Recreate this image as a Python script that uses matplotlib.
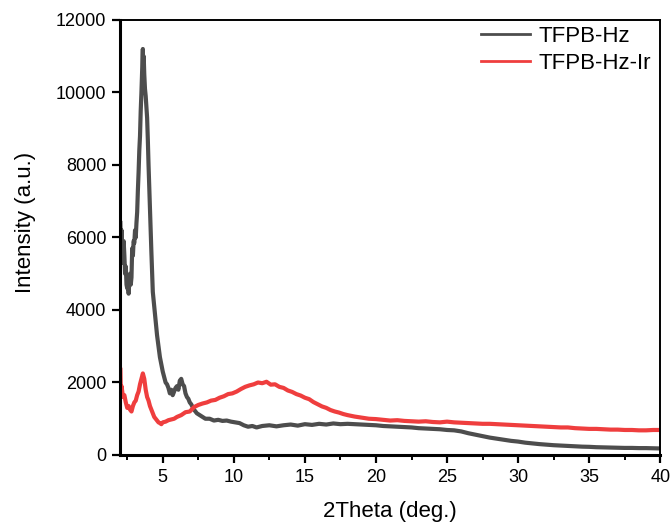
import matplotlib
matplotlib.use("Agg")
import matplotlib.pyplot as plt
from matplotlib.ticker import MultipleLocator

plt.rcParams['font.family'] = ['Liberation Sans', 'DejaVu Sans']

# TFPB-Hz (dark gray)
hz_x = [2.02, 2.06, 2.10, 2.15, 2.20, 2.25, 2.30, 2.35, 2.40, 2.45, 2.50, 2.55, 2.60, 2.65,
        2.70, 2.75, 2.80, 2.85, 2.90, 2.95, 3.00, 3.05, 3.10, 3.15, 3.20, 3.25, 3.30, 3.35,
        3.40, 3.45, 3.50, 3.55, 3.60, 3.63, 3.66, 3.70, 3.75, 3.80, 3.85, 3.90, 3.95, 4.00,
        4.10, 4.20, 4.30, 4.40, 4.50, 4.60, 4.70, 4.80, 4.90, 5.00, 5.10, 5.20, 5.30, 5.40,
        5.50, 5.60, 5.70, 5.80, 5.90, 6.00, 6.10, 6.20, 6.30, 6.40, 6.50, 6.60, 6.70, 6.80,
        6.90, 7.00, 7.20, 7.40, 7.60, 7.80, 8.00, 8.30, 8.60, 8.90, 9.20, 9.50, 9.80, 10.1,
        10.4, 10.7, 11.0, 11.3, 11.6, 12.0, 12.5, 13.0, 13.5, 14.0, 14.5, 15.0, 15.5, 16.0,
        16.5, 17.0, 17.5, 18.0, 18.5, 19.0, 19.5, 20.0, 20.5, 21.0, 21.5, 22.0, 22.5, 23.0,
        23.5, 24.0, 24.5, 25.0, 25.5, 26.0, 26.5, 27.0, 27.5, 28.0, 28.5, 29.0, 29.5, 30.0,
        30.5, 31.0, 31.5, 32.0, 32.5, 33.0, 33.5, 34.0, 34.5, 35.0, 35.5, 36.0, 36.5, 37.0,
        37.5, 38.0, 38.5, 39.0, 39.5, 40.0]
hz_y = [6400, 5600, 6200, 5400, 5300, 5900, 5500, 5000, 5200, 4700, 4600, 4900, 4450, 4800,
        5000, 4700, 4900, 5700, 5500, 5900, 5850, 6200, 6000, 6400, 6700, 7300, 7800, 8400,
        8800, 9500, 10000, 10600, 11200, 10300, 11000, 10500, 10100, 9900, 9600, 9300, 8700, 8000,
        6800, 5600, 4500, 4100, 3700, 3300, 3000, 2700, 2500, 2300, 2150, 2000, 1950, 1850,
        1700, 1800, 1650, 1750, 1850, 1900, 1800, 2050, 2100, 1950, 1900, 1700, 1600, 1550,
        1450, 1400, 1250, 1150, 1100, 1050, 1000, 1000, 950, 970, 940, 950, 920, 900,
        880, 820, 780, 800, 760, 800, 820, 790, 820, 840, 810, 850, 830, 860,
        840, 870, 850, 860, 850, 840, 830, 820, 800, 790, 780, 770, 760, 740,
        730, 720, 710, 690, 680, 650, 600, 560, 520, 480, 450, 420, 390, 370,
        340, 320, 300, 285, 270, 260, 250, 240, 230, 225, 215, 210, 205, 200,
        195, 195, 190, 190, 185, 180]

# TFPB-Hz-Ir (red)
ir_x = [2.02, 2.05, 2.10, 2.20, 2.30, 2.40, 2.50, 2.60, 2.70, 2.80, 2.90, 3.00, 3.10, 3.20,
        3.30, 3.40, 3.50, 3.60, 3.70, 3.80, 3.90, 4.00, 4.10, 4.20, 4.30, 4.40, 4.50, 4.60,
        4.70, 4.80, 4.90, 5.00, 5.20, 5.40, 5.60, 5.80, 6.00, 6.30, 6.60, 6.90, 7.20, 7.50,
        7.80, 8.10, 8.40, 8.70, 9.00, 9.30, 9.60, 9.90, 10.2, 10.5, 10.8, 11.1, 11.4, 11.7,
        12.0, 12.3, 12.6, 12.9, 13.2, 13.5, 13.8, 14.1, 14.4, 14.7, 15.0, 15.3, 15.6, 15.9,
        16.2, 16.5, 16.8, 17.1, 17.4, 17.7, 18.0, 18.5, 19.0, 19.5, 20.0, 20.5, 21.0, 21.5,
        22.0, 22.5, 23.0, 23.5, 24.0, 24.5, 25.0, 25.5, 26.0, 26.5, 27.0, 27.5, 28.0, 28.5,
        29.0, 29.5, 30.0, 30.5, 31.0, 31.5, 32.0, 32.5, 33.0, 33.5, 34.0, 34.5, 35.0, 35.5,
        36.0, 36.5, 37.0, 37.5, 38.0, 38.5, 39.0, 39.5, 40.0]
ir_y = [2350, 1700, 1900, 1600, 1650, 1450, 1300, 1350, 1250, 1200, 1350, 1450, 1500, 1650,
        1750, 1950, 2100, 2250, 2100, 1800, 1600, 1500, 1350, 1250, 1150, 1050, 1000, 950,
        900, 880, 850, 900, 920, 960, 980, 1000, 1050, 1100, 1180, 1200, 1320, 1380,
        1420, 1450, 1500, 1520, 1580, 1620, 1680, 1700, 1750, 1820, 1880, 1920, 1950, 2000,
        1980, 2020, 1940, 1950, 1880, 1850, 1780, 1740, 1680, 1640, 1580, 1540, 1460, 1400,
        1340, 1300, 1240, 1200, 1170, 1130, 1100, 1060, 1030, 1000, 990, 970, 950, 960,
        940, 930, 920, 930, 910, 900, 920, 900, 890, 880, 870, 860, 860, 850,
        840, 830, 820, 810, 800, 790, 780, 770, 760, 760, 740, 730, 720, 720,
        710, 700, 700, 690, 690, 680, 680, 690, 690]

series_labels = ['TFPB-Hz', 'TFPB-Hz-Ir']

fig = plt.figure(figsize=(6.71, 5.26), dpi=100)
ax = fig.add_axes([0.179, 0.135, 0.805, 0.827])

ax.plot(hz_x, hz_y, color='#4d4d4d', lw=3.0, label=series_labels[0], solid_joinstyle='round')
ax.plot(ir_x, ir_y, color='#ef3e3e', lw=3.0, label=series_labels[1], solid_joinstyle='round')

ax.set_xlim(2, 40)
ax.set_ylim(0, 12000)
ax.xaxis.set_major_locator(MultipleLocator(5))
ax.xaxis.set_minor_locator(MultipleLocator(2.5))
ax.yaxis.set_major_locator(MultipleLocator(2000))

ax.tick_params(axis='both', which='major', direction='out', length=6, width=1.6,
               labelsize=13, pad=4)
ax.tick_params(axis='x', which='minor', direction='out', length=3.5, width=1.4)
ax.tick_params(top=False, right=False, which='both')

for side in ['left', 'bottom']:
    ax.spines[side].set_linewidth(2.2)
for side in ['top', 'right']:
    ax.spines[side].set_linewidth(1.4)

ax.set_xlabel('2Theta (deg.)', fontsize=16, labelpad=11)
ax.set_ylabel('Intensity (a.u.)', fontsize=16)
ax.yaxis.set_label_coords(-0.155, 0.535)

leg = ax.legend(loc='upper left', bbox_to_anchor=(481 / 671, 1 - 26 / 526),
                bbox_transform=fig.transFigure, frameon=False, borderpad=0,
                borderaxespad=0, fontsize=16, handlelength=2.2, handletextpad=0.4,
                labelspacing=0.25)
for line in leg.get_lines():
    line.set_linewidth(2.0)

fig.savefig('out.png', dpi=100)
